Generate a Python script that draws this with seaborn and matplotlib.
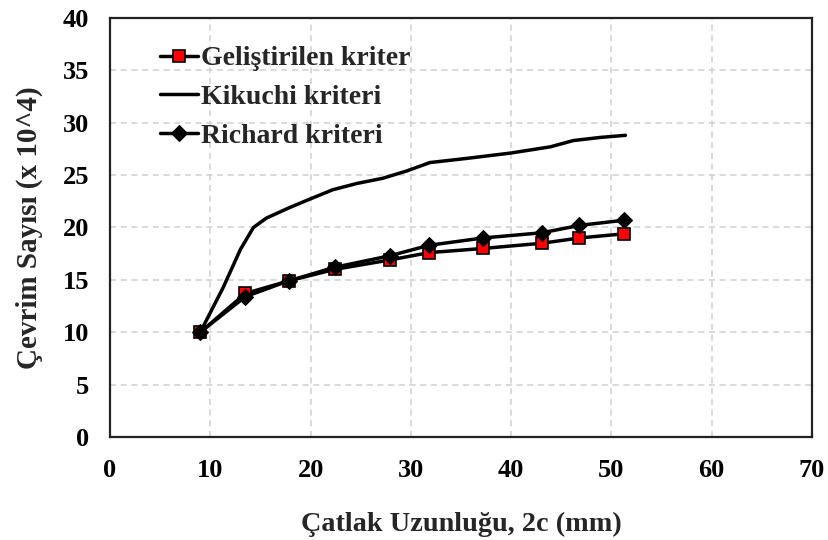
import matplotlib
matplotlib.use("Agg")
import matplotlib.pyplot as plt
import seaborn as sns
import pandas as pd

# Data
crack_x = [9.0, 13.5, 17.8, 22.4, 27.9, 31.8, 37.2, 43.1, 46.8, 51.3]
gelistirilen_y = [10.0, 13.7, 14.9, 16.0, 16.9, 17.6, 18.0, 18.5, 19.0, 19.4]
richard_y = [10.0, 13.4, 14.9, 16.2, 17.3, 18.3, 19.0, 19.5, 20.2, 20.7]

kikuchi_x = [9.0, 11.3, 13.0, 14.3, 15.6, 17.9, 19.9, 22.2, 24.6, 27.2, 29.6,
             31.9, 35.6, 39.9, 43.9, 46.2, 48.9, 51.4]
kikuchi_y = [10.0, 14.3, 17.9, 20.0, 20.9, 21.9, 22.7, 23.6, 24.2, 24.7, 25.4,
             26.2, 26.6, 27.1, 27.7, 28.3, 28.6, 28.8]

labels = ["Geliştirilen kriter", "Kikuchi kriteri", "Richard kriteri"]
x_ticks = [0, 10, 20, 30, 40, 50, 60, 70]
y_ticks = [0, 5, 10, 15, 20, 25, 30, 35, 40]

sns.set_theme(style="white")
plt.rcParams['font.family'] = ['Liberation Serif', 'DejaVu Serif']
plt.rcParams['font.weight'] = 'bold'

fig = plt.figure(figsize=(8.29, 5.40), dpi=100)
ax = fig.add_axes([110/829, 1 - 437/540, (812 - 110)/829, (437 - 18)/540])

df_g = pd.DataFrame({"x": crack_x, "y": gelistirilen_y})
df_k = pd.DataFrame({"x": kikuchi_x, "y": kikuchi_y})
df_r = pd.DataFrame({"x": crack_x, "y": richard_y})

sns.lineplot(data=df_g, x="x", y="y", ax=ax, sort=False, color="black", lw=2.5,
             marker="s", markersize=8, markerfacecolor="#ff0000",
             markeredgecolor="black", markeredgewidth=1.2, label=labels[0], zorder=3)
sns.lineplot(data=df_k, x="x", y="y", ax=ax, sort=False, color="black", lw=2.5,
             label=labels[1], zorder=3)
sns.lineplot(data=df_r, x="x", y="y", ax=ax, sort=False, color="black", lw=2.5,
             marker="D", markersize=8, markerfacecolor="black",
             markeredgecolor="black", label=labels[2], zorder=4)

ax.set_xlim(0, 70)
ax.set_ylim(0, 40)
ax.set_xticks(x_ticks)
ax.set_yticks(y_ticks)
ax.grid(True, linestyle=(0, (4, 3)), color="#cfcfcf", linewidth=1.1)
ax.set_axisbelow(True)
for s in ax.spines.values():
    s.set_visible(True)
    s.set_color("#222222")
    s.set_linewidth(1.6)

ax.tick_params(axis="both", direction="in", length=6, width=1.5, color="#222222",
               labelsize=19, labelcolor="black")
ax.tick_params(axis="x", pad=16)
ax.tick_params(axis="y", pad=15)
for lab in ax.get_xticklabels() + ax.get_yticklabels():
    lab.set_fontweight("bold")

ax.set_xlabel("Çatlak Uzunluğu, 2c (mm)", fontsize=20.3, fontweight="bold", labelpad=21)
ax.set_ylabel("Çevrim Sayısı (x 10^4)", fontsize=21, fontweight="bold", labelpad=14)

leg = ax.legend(loc="upper left", bbox_to_anchor=(0.035, 0.993), frameon=False,
                prop={"family": "Liberation Serif", "weight": "bold", "size": 20},
                handlelength=1.4, handletextpad=0.08, labelspacing=0.48)

fig.savefig("out.png", dpi=100)
